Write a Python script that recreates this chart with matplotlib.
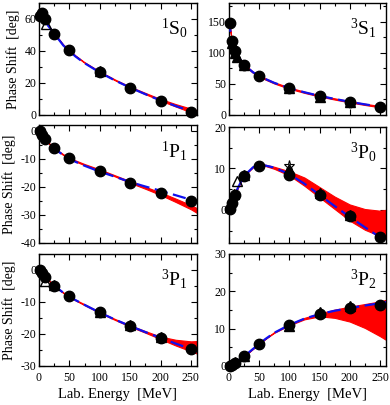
import numpy as np
import matplotlib
matplotlib.use("Agg")
import matplotlib.pyplot as plt
from matplotlib.ticker import MultipleLocator

plt.rcParams['font.family'] = ['Liberation Serif', 'DejaVu Serif']
plt.rcParams['mathtext.fontset'] = 'custom'
plt.rcParams['mathtext.rm'] = 'Liberation Serif'
plt.rcParams['mathtext.it'] = 'Liberation Serif:italic'
plt.rcParams['axes.unicode_minus'] = False

# ---------------- data ----------------
E_pts = [1, 5, 10, 25, 50, 100, 150, 200, 250]
E_cur = [0.5, 2, 5, 10, 15, 25, 40, 50, 60, 75, 100, 125, 150, 175, 200, 225, 250, 260]

# 1S0
s10_pts = [62.1, 63.6, 60.0, 50.9, 40.5, 26.8, 16.9, 8.9, 2.0]
s10_tri_E = [4, 100]; s10_tri = [63.0, 27.8]
s10_otri_E = [12]; s10_otri = [57.0]
s10_cur = [60.0, 64.0, 63.6, 60.0, 55.8, 50.9, 43.5, 40.0, 36.6, 32.4, 26.6, 21.6, 17.1, 13.0, 9.1, 5.6, 2.4, 1.2]
s10_lo = [60.0, 64.0, 63.6, 60.0, 55.8, 50.9, 43.6, 40.2, 36.8, 32.6, 26.8, 21.7, 17.1, 13.0, 9.0, 5.3, 1.7, 0.4]
s10_hi = [60.5, 64.4, 63.9, 60.3, 56.1, 51.2, 44.0, 40.6, 37.2, 33.0, 27.2, 22.2, 17.7, 13.8, 10.0, 6.8, 4.0, 3.0]

# 3S1
s31_pts = [147.7, 118.2, 102.6, 80.6, 62.8, 43.2, 30.7, 21.2, 13.4]
s31_tri_E = [5, 10, 13, 25, 100, 150, 200]; s31_tri = [116.0, 100.0, 93.0, 80.0, 43.0, 29.0, 21.0]
s31_cur = [155.0, 137.0, 118.2, 102.6, 94.0, 80.6, 68.5, 62.8, 58.0, 51.6, 43.2, 36.5, 30.7, 25.8, 21.2, 17.1, 13.4, 12.0]
s31_lo = [v - 1.0 for v in s31_cur]
s31_hi = [v + 1.0 for v in s31_cur]

# 1P1
p11_pts = [-0.2, -1.5, -3.0, -6.3, -9.7, -14.5, -18.6, -22.2, -25.1]
p11_cur = [-0.1, -0.5, -1.5, -3.0, -4.3, -6.4, -8.7, -10.0, -11.1, -12.5, -14.6, -16.4, -18.3, -19.9, -21.4, -23.0, -24.6, -25.4]
p11_lo = [-0.1, -0.5, -1.5, -3.0, -4.3, -6.4, -8.7, -9.9, -11.0, -12.3, -14.2, -16.3, -18.6, -20.7, -22.9, -25.4, -28.0, -29.3]
p11_hi = [0.1, -0.3, -1.3, -2.8, -4.1, -6.2, -8.4, -9.6, -10.6, -11.9, -13.8, -15.9, -18.0, -20.0, -22.0, -24.2, -26.5, -27.6]

# 3P0
p30_pts = [0.2, 1.6, 3.7, 8.1, 10.7, 8.5, 3.7, -1.4, -6.5]
p30_tri_E = [8, 25, 100, 150, 200]; p30_tri = [3.8, 8.5, 9.5, 4.0, -1.2]
p30_otri_E = [13, 100]; p30_otri = [7.0, 9.8]
p30_star_E = [100]; p30_star = [10.6]
p30_cur = [0.1, 0.6, 1.8, 3.7, 5.4, 8.2, 10.3, 10.8, 10.7, 10.2, 8.6, 6.3, 3.6, 0.9, -1.7, -4.2, -6.6, -7.6]
p30_lo = [0.1, 0.6, 1.8, 3.7, 5.4, 8.2, 10.3, 10.8, 10.6, 9.9, 8.3, 5.8, 3.0, 0.2, -2.6, -4.8, -6.3, -6.9]
p30_hi = [0.3, 0.8, 2.0, 3.9, 5.6, 8.4, 10.5, 11.0, 10.9, 10.4, 9.3, 7.8, 5.5, 3.2, 1.3, 0.2, -0.2, 0.0]

# 3P1
p31_pts = [-0.1, -0.9, -2.1, -4.9, -8.2, -13.2, -17.5, -21.3, -24.8]
p31_tri_E = [25, 100, 150, 200]; p31_tri = [-4.7, -13.2, -17.3, -21.0]
p31_otri_E = [10]; p31_otri = [-3.3]
p31_cur = [-0.1, -0.4, -1.0, -2.1, -3.1, -4.9, -7.1, -8.3, -9.4, -10.9, -13.3, -15.5, -17.5, -19.4, -21.2, -23.0, -24.7, -25.4]
p31_lo = [-0.2, -0.5, -1.1, -2.2, -3.2, -5.0, -7.2, -8.4, -9.5, -11.0, -13.4, -15.6, -17.7, -19.6, -21.6, -23.6, -25.4, -26.1]
p31_hi = [0.0, -0.3, -0.9, -2.0, -3.0, -4.8, -7.0, -8.2, -9.3, -10.7, -13.1, -15.3, -17.3, -19.1, -20.8, -21.8, -22.3, -22.2]

# 3P2
p32_pts = [0.0, 0.3, 0.7, 2.6, 5.9, 10.9, 13.8, 15.5, 16.4]
p32_tri_E = [25, 100, 150, 200]; p32_tri = [2.8, 10.8, 14.5, 16.2]
p32_otri_E = [10]; p32_otri = [1.0]
p32_cur = [0.0, 0.05, 0.3, 0.8, 1.4, 2.6, 4.6, 5.9, 7.2, 8.9, 11.0, 12.7, 13.9, 14.8, 15.5, 16.2, 16.8, 17.1]
p32_lo = [0.0, 0.05, 0.3, 0.8, 1.4, 2.6, 4.6, 5.9, 7.2, 8.9, 10.9, 12.5, 13.3, 12.9, 11.9, 10.2, 8.0, 7.0]
p32_hi = [0.1, 0.15, 0.4, 0.9, 1.5, 2.7, 4.7, 6.0, 7.3, 9.1, 11.2, 12.9, 14.1, 15.1, 15.9, 16.6, 17.3, 17.7]

panels = [
    (r'$^{1}\mathrm{S}_{0}$', s10_pts, s10_cur, s10_lo, s10_hi, (s10_tri_E, s10_tri), (s10_otri_E, s10_otri), None,
     (0, 70), 20, 10),
    (r'$^{3}\mathrm{S}_{1}$', s31_pts, s31_cur, s31_lo, s31_hi, (s31_tri_E, s31_tri), None, None,
     (0, 180), 50, 25),
    (r'$^{1}\mathrm{P}_{1}$', p11_pts, p11_cur, p11_lo, p11_hi, None, None, None,
     (-40, 2), 10, 5),
    (r'$^{3}\mathrm{P}_{0}$', p30_pts, p30_cur, p30_lo, p30_hi, (p30_tri_E, p30_tri), (p30_otri_E, p30_otri), (p30_star_E, p30_star),
     (-8, 20), 10, 5),
    (r'$^{3}\mathrm{P}_{1}$', p31_pts, p31_cur, p31_lo, p31_hi, (p31_tri_E, p31_tri), (p31_otri_E, p31_otri), None,
     (-30, 5), 10, 5),
    (r'$^{3}\mathrm{P}_{2}$', p32_pts, p32_cur, p32_lo, p32_hi, (p32_tri_E, p32_tri), (p32_otri_E, p32_otri), None,
     (0, 30), 10, 5),
]

W, H = 390, 405
fig = plt.figure(figsize=(W / 100, H / 100), dpi=100)

boxes = [
    (39, 3, 197, 115), (229, 3, 386, 115),
    (39, 125, 197, 243), (229, 127, 386, 243),
    (39, 254, 197, 366), (229, 254, 386, 366),
]

for i, (p, box) in enumerate(zip(panels, boxes)):
    label, pts, cur, lo, hi, tri, otri, star, ylim, maj, mnr = p
    x0, y0, x1, y1 = box
    ax = fig.add_axes([x0 / W, 1 - y1 / H, (x1 - x0) / W, (y1 - y0) / H])
    ax.fill_between(E_cur, lo, hi, color='red', lw=0.8, edgecolor='red', zorder=2)
    ax.plot(E_cur, cur, color='#1010ee', lw=1.6, dashes=(6, 2.5), zorder=3)
    if tri is not None:
        ax.plot(tri[0], tri[1], '^', color='black', ms=7, zorder=4, clip_on=False)
    if otri is not None:
        ax.plot(otri[0], otri[1], '^', mfc='none', mec='black', mew=1.0, ms=6.5, zorder=4)
    if star is not None:
        ax.plot(star[0], star[1], '*', mfc='none', mec='black', mew=0.8, ms=8, zorder=4)
    ax.plot(E_pts, pts, 'o', color='black', ms=7.5, zorder=5, clip_on=False)

    ax.set_xlim(0, 260)
    ax.set_ylim(*ylim)
    ax.xaxis.set_major_locator(MultipleLocator(50))
    ax.xaxis.set_minor_locator(MultipleLocator(25))
    ax.yaxis.set_major_locator(MultipleLocator(maj))
    ax.yaxis.set_minor_locator(MultipleLocator(mnr))
    ax.tick_params(which='both', direction='in', top=True, right=True, labelsize=8.5)
    ax.tick_params(axis='y', pad=2)
    ax.tick_params(axis='x', pad=4)
    ax.tick_params(which='major', length=4, width=0.8)
    ax.tick_params(which='minor', length=2, width=0.8)
    for s in ax.spines.values():
        s.set_linewidth(1.0)
    if i < 4:
        ax.set_xticklabels([])
    else:
        ax.set_xlabel('Lab. Energy  [MeV]', fontsize=10.5, labelpad=3)
    if i % 2 == 0:
        ax.set_ylabel('Phase Shift  [deg]', fontsize=10, labelpad=3)
    ax.text(0.94, 0.78, label, transform=ax.transAxes, ha='right', va='center', fontsize=14)

fig.savefig('out.png', dpi=100)
